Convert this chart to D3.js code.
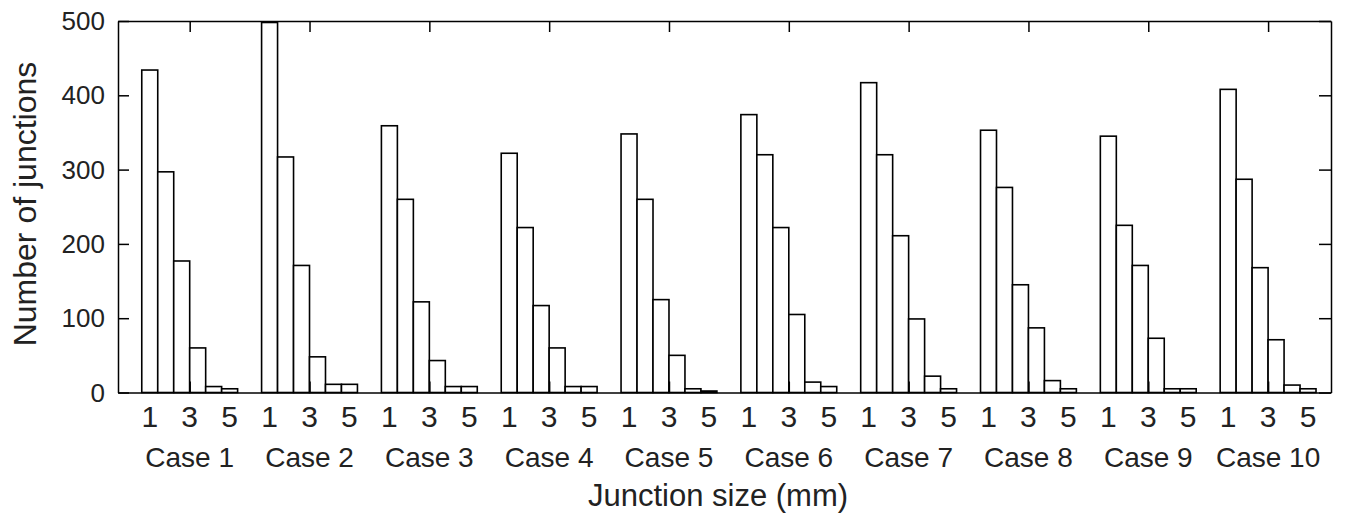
<!DOCTYPE html>
<meta charset="utf-8">
<style>

body {
  margin: 0;
  background: #fff;
  font-family: "Liberation Sans", Arial, sans-serif;
}

svg {
  display: block;
}

.bar {
  fill: #fff;
  stroke: #000;
  stroke-width: 1.6px;
}

.axis path, .axis line {
  stroke: #000;
  stroke-width: 1.5px;
}

.label {
  fill: #222;
  font-family: "Liberation Sans", Arial, sans-serif;
}

</style>
<body>
<script src="https://d3js.org/d3.v7.js"></script>
<script>

// junction counts per case, one value per histogram bin
const case1 = [434, 297, 177, 60, 8, 5];
const case2 = [498, 317, 171, 48, 11, 11];
const case3 = [359, 260, 122, 43, 8, 8];
const case4 = [322, 222, 117, 60, 8, 8];
const case5 = [348, 260, 125, 50, 5, 2];
const case6 = [374, 320, 222, 105, 14, 8];
const case7 = [417, 320, 211, 99, 22, 5];
const case8 = [353, 276, 145, 87, 16, 5];
const case9 = [345, 225, 171, 73, 5, 5];
const case10 = [408, 287, 168, 71, 10, 5];

const counts = [case1, case2, case3, case4, case5, case6, case7, case8, case9, case10];

const caseNames = ["Case 1", "Case 2", "Case 3", "Case 4", "Case 5",
                   "Case 6", "Case 7", "Case 8", "Case 9", "Case 10"];

// bin centres (mm) and the size labels shown under each group
const binCenters = [1, 1.8, 2.6, 3.4, 4.2, 5];
const sizeTicks = [1, 3, 5];
const yTicks = [0, 100, 200, 300, 400, 500];

const width = 1346;
const height = 520;
const margin = {top: 21, right: 15, bottom: 127.5, left: 118};

const groupStep = 6;   // each case shifted by 6 mm on the x axis
const binWidth = 0.8;

const xScale = d3.scaleLinear()
    .domain([-0.59, 60.15])
    .range([margin.left, width - margin.right]);

const yScale = d3.scaleLinear()
    .domain([0, 500])
    .range([height - margin.bottom, margin.top]);

const svg = d3.select("body").append("svg")
    .attr("width", width)
    .attr("height", height);

const groupCenters = caseNames.map((d, i) => 3 + i * groupStep);
const sizeLabels = caseNames.flatMap((d, i) => sizeTicks.map(s => ({pos: s + i * groupStep, text: String(s)})));

// bars
const bars = counts.flatMap((vals, i) =>
  vals.map((v, j) => ({pos: binCenters[j] + i * groupStep, value: v})));

svg.selectAll(".bar")
    .data(bars)
  .enter().append("rect")
    .attr("class", "bar")
    .attr("x", d => xScale(d.pos - binWidth / 2))
    .attr("width", d => xScale(d.pos + binWidth / 2) - xScale(d.pos - binWidth / 2))
    .attr("y", d => yScale(d.value))
    .attr("height", d => yScale(0) - yScale(d.value));

// box axes with inward ticks, labels drawn separately
svg.append("g")
    .attr("class", "axis")
    .attr("transform", `translate(${margin.left}, 0)`)
    .call(d3.axisLeft(yScale).tickValues(yTicks).tickSizeInner(-11).tickSizeOuter(0).tickFormat(""));

svg.append("g")
    .attr("class", "axis")
    .attr("transform", `translate(${width - margin.right}, 0)`)
    .call(d3.axisRight(yScale).tickValues(yTicks).tickSizeInner(-12).tickSizeOuter(0).tickFormat(""));

svg.append("g")
    .attr("class", "axis")
    .attr("transform", `translate(0, ${margin.top})`)
    .call(d3.axisTop(xScale).tickValues(groupCenters).tickSizeInner(-11).tickSizeOuter(0).tickFormat(""));

svg.append("g")
    .attr("class", "axis")
    .attr("transform", `translate(0, ${yScale(0)})`)
    .call(d3.axisBottom(xScale).tickValues(groupCenters).tickSizeInner(-11).tickSizeOuter(0).tickFormat(""));

// y tick labels
svg.selectAll(".ylab")
    .data(yTicks)
  .enter().append("text")
    .attr("class", "label ylab")
    .attr("x", margin.left - 13)
    .attr("y", d => yScale(d) + 9)
    .attr("text-anchor", "end")
    .attr("font-size", 26)
    .text(d => d);

// size labels 1 3 5
svg.selectAll(".slab")
    .data(sizeLabels)
  .enter().append("text")
    .attr("class", "label slab")
    .attr("x", d => xScale(d.pos))
    .attr("y", yScale(0) + 34)
    .attr("text-anchor", "middle")
    .attr("font-size", 30)
    .text(d => d.text);

// case labels
svg.selectAll(".clab")
    .data(caseNames)
  .enter().append("text")
    .attr("class", "label clab")
    .attr("x", (d, i) => xScale(groupCenters[i]))
    .attr("y", yScale(0) + 74)
    .attr("text-anchor", "middle")
    .attr("font-size", 28)
    .text(d => d);

// axis titles
svg.append("text")
    .attr("class", "label")
    .attr("x", 718)
    .attr("y", 506)
    .attr("text-anchor", "middle")
    .attr("font-size", 31)
    .text("Junction size (mm)");

svg.append("text")
    .attr("class", "label")
    .attr("transform", "translate(36, 204) rotate(-90)")
    .attr("text-anchor", "middle")
    .attr("font-size", 32)
    .text("Number of junctions");

</script>
